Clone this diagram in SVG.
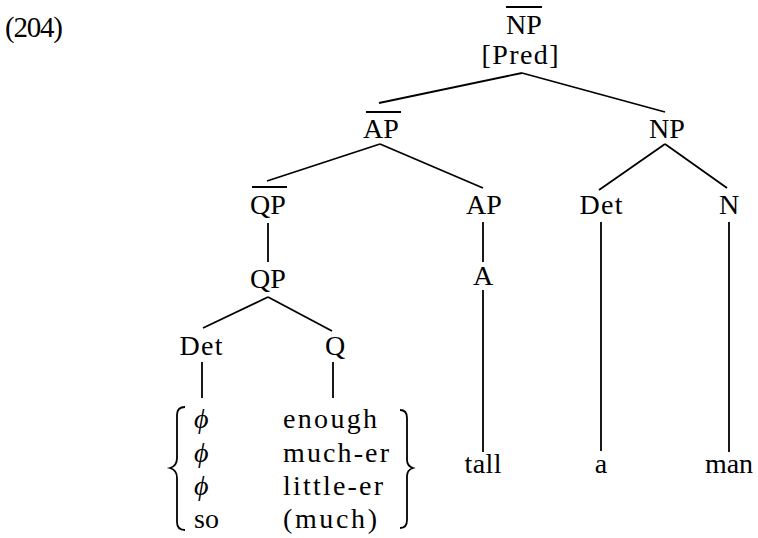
<svg xmlns="http://www.w3.org/2000/svg" width="758" height="538" viewBox="0 0 758 538">
<style>
text{font-family:"Liberation Serif","Times New Roman",serif;font-size:28px;fill:#000}
.c{text-anchor:middle}
line,path{stroke:#000;stroke-width:1.8;fill:none}
</style>
<rect width="758" height="538" fill="#fff"/>
<text x="5" y="37" textLength="58" style="font-size:29px">(204)</text>
<g id="connectors">
<line x1="522" y1="73" x2="379" y2="103"/>
<line x1="522" y1="73" x2="665" y2="112"/>
<line x1="380" y1="144" x2="267" y2="181"/>
<line x1="380" y1="144" x2="483" y2="188"/>
<line x1="665" y1="144" x2="599" y2="190"/>
<line x1="665" y1="144" x2="727" y2="188"/>
<line x1="268" y1="223" x2="268" y2="262"/>
<line x1="268" y1="297" x2="203" y2="328"/>
<line x1="268" y1="297" x2="332" y2="331"/>
<line x1="202" y1="362" x2="202" y2="398"/>
<line x1="333" y1="362" x2="333" y2="398"/>
<line x1="483" y1="222" x2="483" y2="262"/>
<line x1="483" y1="290" x2="483" y2="452"/>
<line x1="601" y1="222" x2="601" y2="451"/>
<line x1="729" y1="222" x2="729" y2="452"/>
</g>
<g id="n-npbar"><line x1="506" y1="7" x2="542" y2="7"/><text class="c" x="524" y="34">NP</text><text class="c" x="520" y="64" textLength="77">[Pred]</text></g>
<g id="n-apbar"><line x1="366" y1="112" x2="401" y2="112"/><text class="c" x="381" y="138">AP</text></g>
<g id="n-np"><text class="c" x="667" y="138">NP</text></g>
<g id="n-qpbar"><line x1="252" y1="187" x2="287" y2="187"/><text class="c" x="268" y="214">QP</text></g>
<g id="n-ap"><text class="c" x="484" y="214">AP</text></g>
<g id="n-det2"><text class="c" x="601" y="214" textLength="43">Det</text></g>
<g id="n-n"><text class="c" x="729" y="214">N</text></g>
<g id="n-qp"><text class="c" x="268" y="288">QP</text></g>
<g id="n-a"><text class="c" x="483" y="285">A</text></g>
<g id="n-det"><text class="c" x="201" y="355" textLength="43">Det</text></g>
<g id="n-q"><text class="c" x="335" y="355">Q</text></g>
<g id="n-list">
<path d="M185,407 Q177,407 177,415 L177,458 Q177,466 170,468 Q177,470 177,478 L177,522 Q177,530 185,530"/>
<path d="M400,410 Q407,410 407,418 L407,460 Q407,466 413,468 Q407,470 407,476 L407,520 Q407,528 400,528"/>
<text x="194" y="428" font-style="italic">ϕ</text>
<text x="194" y="462" font-style="italic">ϕ</text>
<text x="194" y="495" font-style="italic">ϕ</text>
<text x="194" y="528">so</text>
<text x="283" y="428" textLength="94">enough</text>
<text x="283" y="462" textLength="106">much-er</text>
<text x="283" y="495" textLength="100">little-er</text>
<text x="283" y="528" textLength="94">(much)</text>
</g>
<g id="n-tall"><text class="c" x="483" y="473" textLength="37">tall</text></g>
<g id="n-a2"><text class="c" x="601" y="473">a</text></g>
<g id="n-man"><text class="c" x="729" y="473" textLength="48">man</text></g>
</svg>
